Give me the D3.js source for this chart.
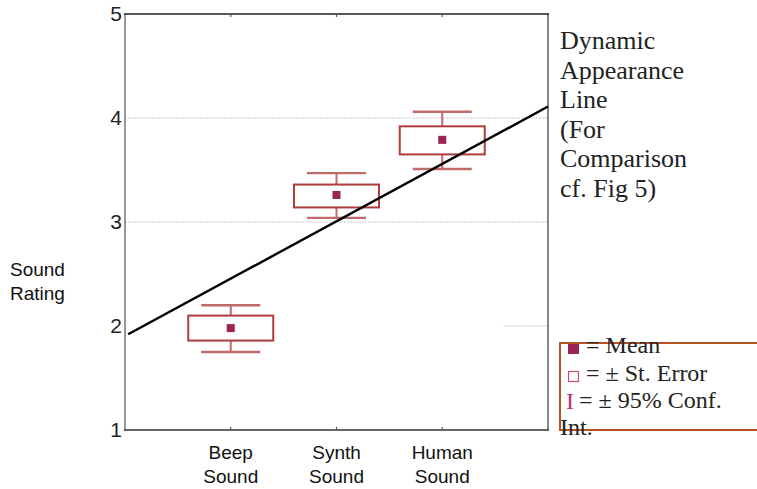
<!DOCTYPE html>
<html>
<head>
<meta charset="utf-8">
<script src="https://cdn.jsdelivr.net/npm/d3@7"></script>
<style>
  html, body { margin: 0; padding: 0; background: #fff; }
  svg { display: block; }
</style>
</head>
<body>
<svg id="chart" width="757" height="489"></svg>
<script>
// Sound categories and their summary statistics
const categories = ["Beep\nSound", "Synth\nSound", "Human\nSound"];
const means      = [1.98, 3.26, 3.79];
const seLow      = [1.86, 3.14, 3.65];
const seHigh     = [2.10, 3.36, 3.92];
const ciLow      = [1.75, 3.04, 3.51];
const ciHigh     = [2.20, 3.47, 4.06];

// Dynamic appearance reference line (category position, rating)
const refLineX = [0.03, 4];
const refLineY = [1.92, 4.11];

const yTicks = [1, 2, 3, 4, 5];
const noteLines = ["Dynamic", "Appearance", "Line", "(For", "Comparison", "cf. Fig 5)"];
const legendLines = ["= Mean", "= \u00b1 St. Error", "= \u00b1 95% Conf."];

const svg = d3.select("#chart");
const plotL = 125, plotR = 548, plotT = 14, plotB = 430;

const x = d3.scaleLinear().domain([0, 4]).range([plotL, plotR]);
const y = d3.scaleLinear().domain([1, 5]).range([plotB, plotT]);

const boxColor = "#ae3c3c";
const whiskColor = "#c06a6a";
const meanColor = "#9a2454";
const sans = "Liberation Sans, Arial, sans-serif";
const serif = "Liberation Serif, Times New Roman, serif";

// dotted grid lines
const grid = svg.append("g");
[3, 4].forEach(v => {
  grid.append("line")
    .attr("x1", plotL).attr("x2", plotR)
    .attr("y1", y(v)).attr("y2", y(v))
    .attr("stroke", "#c8c8c8").attr("stroke-width", 1.2)
    .attr("stroke-dasharray", "2,1");
});
grid.append("line")
  .attr("x1", x(3.58)).attr("x2", plotR)
  .attr("y1", y(2)).attr("y2", y(2))
  .attr("stroke", "#c8c8c8").attr("stroke-width", 1.2)
  .attr("stroke-dasharray", "2,1");

// frame
svg.append("line").attr("x1", plotL).attr("x2", plotL).attr("y1", plotT).attr("y2", plotB)
  .attr("stroke", "#999").attr("stroke-width", 2);
svg.append("line").attr("x1", plotR).attr("x2", plotR).attr("y1", plotT).attr("y2", plotB)
  .attr("stroke", "#888").attr("stroke-width", 2);
svg.append("line").attr("x1", plotL - 1).attr("x2", plotR + 1).attr("y1", plotT).attr("y2", plotT)
  .attr("stroke", "#222").attr("stroke-width", 1.6);
svg.append("line").attr("x1", plotL - 1).attr("x2", plotR + 1).attr("y1", plotB).attr("y2", plotB)
  .attr("stroke", "#333").attr("stroke-width", 1.6);

// small category ticks on top and bottom
[1, 2, 3].forEach(c => {
  svg.append("line").attr("x1", x(c)).attr("x2", x(c)).attr("y1", plotT).attr("y2", plotT + 3)
    .attr("stroke", "#555").attr("stroke-width", 1.2);
  svg.append("line").attr("x1", x(c)).attr("x2", x(c)).attr("y1", plotB).attr("y2", plotB - 3)
    .attr("stroke", "#555").attr("stroke-width", 1.2);
});

// y axis labels
const yAxis = d3.axisLeft(y).tickValues(yTicks).tickFormat(d3.format("d")).tickSize(0).tickPadding(3);
const yg = svg.append("g").attr("transform", `translate(${plotL},0)`).call(yAxis);
yg.select(".domain").remove();
yg.selectAll("text")
  .attr("font-family", sans)
  .attr("font-size", 21).attr("fill", "#222");

// category labels
categories.forEach((c, i) => {
  const t = svg.append("text")
    .attr("x", x(i + 1)).attr("y", 459)
    .attr("text-anchor", "middle")
    .attr("font-family", sans)
    .attr("font-size", 19).attr("fill", "#111");
  c.split("\n").forEach((line, k) => {
    t.append("tspan").attr("x", x(i + 1)).attr("dy", k === 0 ? 0 : 24).text(line);
  });
});

// y axis title
const yt = svg.append("text")
  .attr("x", 10).attr("y", 276)
  .attr("font-family", sans)
  .attr("font-size", 19).attr("fill", "#111");
yt.append("tspan").attr("x", 10).text("Sound");
yt.append("tspan").attr("x", 10).attr("dy", 24).text("Rating");

// box plots
const boxW = 85, capW = 59, meanS = 8;
const g = svg.append("g");
categories.forEach((c, i) => {
  const cx = x(i + 1);
  // whiskers
  g.append("line").attr("x1", cx).attr("x2", cx).attr("y1", y(ciHigh[i])).attr("y2", y(seHigh[i]))
    .attr("stroke", whiskColor).attr("stroke-width", 2);
  g.append("line").attr("x1", cx).attr("x2", cx).attr("y1", y(seLow[i])).attr("y2", y(ciLow[i]))
    .attr("stroke", whiskColor).attr("stroke-width", 2);
  g.append("line").attr("x1", cx - capW / 2).attr("x2", cx + capW / 2)
    .attr("y1", y(ciHigh[i])).attr("y2", y(ciHigh[i]))
    .attr("stroke", whiskColor).attr("stroke-width", 2.4);
  g.append("line").attr("x1", cx - capW / 2).attr("x2", cx + capW / 2)
    .attr("y1", y(ciLow[i])).attr("y2", y(ciLow[i]))
    .attr("stroke", whiskColor).attr("stroke-width", 2.4);
  // standard error box
  g.append("rect")
    .attr("x", cx - boxW / 2).attr("y", y(seHigh[i]))
    .attr("width", boxW).attr("height", y(seLow[i]) - y(seHigh[i]))
    .attr("fill", "none").attr("stroke", boxColor).attr("stroke-width", 2);
  // mean
  g.append("rect")
    .attr("x", cx - meanS / 2).attr("y", y(means[i]) - meanS / 2)
    .attr("width", meanS).attr("height", meanS)
    .attr("fill", meanColor);
});

// reference line, drawn over the boxes
const lineData = refLineX.map((v, i) => [v, refLineY[i]]);
svg.append("path")
  .datum(lineData)
  .attr("d", d3.line().x(d => x(d[0])).y(d => y(d[1])))
  .attr("fill", "none").attr("stroke", "#000").attr("stroke-width", 2.4);

// note on the right
const note = svg.append("text")
  .attr("x", 560).attr("y", 49)
  .attr("font-family", serif)
  .attr("font-size", 26).attr("fill", "#222");
noteLines.forEach((l, k) => {
  note.append("tspan").attr("x", 560).attr("dy", k === 0 ? 0 : 29.5).text(l);
});

// legend
svg.append("rect")
  .attr("x", 560).attr("y", 343).attr("width", 210).attr("height", 87)
  .attr("fill", "none").attr("stroke", "#b4531f").attr("stroke-width", 2);

svg.append("rect").attr("x", 568).attr("y", 344).attr("width", 11).attr("height", 10)
  .attr("fill", meanColor);
svg.append("rect").attr("x", 568.5).attr("y", 371.5).attr("width", 10).attr("height", 10)
  .attr("fill", "none").attr("stroke", "#c0507a").attr("stroke-width", 1.2);
svg.append("text").attr("x", 566).attr("y", 409)
  .attr("font-family", serif)
  .attr("font-size", 24).attr("fill", "#c0306a").text("I");

const legendX = [586, 586, 579];
const legendY = [353, 381, 408];
legendLines.forEach((l, k) => {
  svg.append("text").attr("x", legendX[k]).attr("y", legendY[k])
    .attr("font-family", serif)
    .attr("font-size", 24).attr("fill", "#222").text(l);
});
svg.append("text").attr("x", 560).attr("y", 435)
  .attr("font-family", serif)
  .attr("font-size", 24).attr("fill", "#222").text("Int.");
</script>
</body>
</html>
